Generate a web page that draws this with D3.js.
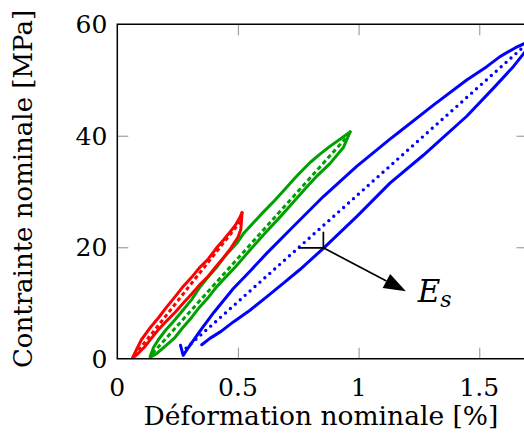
<!DOCTYPE html>
<html><head><meta charset="utf-8">
<script src="https://cdn.jsdelivr.net/npm/d3@7"></script>
<style>
html,body{margin:0;padding:0;background:#fff;}
svg{display:block;}
text{font-family:"DejaVu Serif",serif;fill:#000;}
</style></head>
<body>
<script>
// ---- data ----
const xDomain = [0, 1.7];
const yDomain = [0, 60];
const xTicks = [0, 0.5, 1, 1.5];
const yTicks = [0, 20, 40, 60];
const xLabel = "Déformation nominale [%]";
const yLabel = "Contrainte nominale [MPa]";

const redUpper = [[0.066,0.4],[0.085,2.1],[0.10,3.4],[0.135,5.5],[0.17,7.3],[0.205,9.3],[0.239,11.1],[0.27,12.8],[0.308,14.6],[0.34,16.3],[0.377,17.9],[0.41,19.8],[0.44,21.3],[0.47,22.9],[0.49,24.0],[0.505,25.1],[0.517,26.2]];
const redLower = [[0.064,0.2],[0.075,0.5],[0.09,1.1],[0.115,2.2],[0.14,3.6],[0.17,5.2],[0.205,6.8],[0.239,8.3],[0.27,9.8],[0.308,11.6],[0.34,13.2],[0.377,14.8],[0.41,16.6],[0.44,18.1],[0.47,19.8],[0.50,21.8],[0.512,23.2],[0.517,26.2]];
const redSecant = [[0.07,0.5],[0.51,24.6]];

const greenUpper = [[0.136,0.4],[0.15,2.0],[0.17,3.4],[0.20,5.1],[0.239,7.0],[0.27,8.6],[0.308,10.6],[0.34,12.7],[0.377,14.7],[0.41,16.3],[0.446,18.4],[0.495,20.7],[0.522,22.4],[0.56,24.2],[0.605,26.3],[0.65,28.3],[0.688,30.1],[0.74,32.6],[0.799,35.2],[0.84,36.7],[0.881,38.1],[0.93,39.6],[0.965,40.7]];
const greenLower = [[0.138,0.3],[0.150,0.6],[0.163,0.9],[0.20,2.3],[0.239,3.8],[0.27,5.5],[0.308,7.4],[0.34,9.2],[0.377,11.0],[0.41,12.8],[0.446,14.5],[0.49,16.5],[0.522,18.1],[0.55,19.5],[0.61,22.4],[0.674,25.4],[0.73,28.1],[0.785,30.8],[0.83,32.9],[0.881,35.0],[0.937,37.9],[0.965,40.7]];
const greenSecant = [[0.145,0.9],[0.96,40.2]];

const blueUpper = [[0.262,2.4],[0.273,0.6],[0.29,1.7],[0.35,5.4],[0.40,8.3],[0.481,12.6],[0.55,15.7],[0.619,18.9],[0.715,23.1],[0.854,29.1],[0.992,34.5],[1.13,39.4],[1.172,40.8],[1.31,45.5],[1.448,50.0],[1.531,52.4],[1.586,54.2],[1.65,55.8],[1.70,56.8]];
const blueLower = [[0.350,2.5],[0.384,3.65],[0.43,4.9],[0.481,6.6],[0.55,8.7],[0.619,11.1],[0.69,13.6],[0.757,16.0],[0.854,19.8],[0.992,25.5],[1.13,31.5],[1.268,36.5],[1.33,38.9],[1.448,43.5],[1.558,48.5],[1.641,52.4],[1.70,55.6]];
const blueSecant = [[0.285,1.9],[1.70,56.6]];

// annotation (data coordinates)
const perpCorner = [0.854, 19.9];
const perpHoriz = [0.75, 19.9];
const perpVert = [0.854, 22.8];
const arrowTip = [1.196, 12.1];
const esLabelPos = [1.245, 10.2];

// ---- layout ----
const W = 524, H = 435;
const margin = {left: 117.3, top: 24.3, right: W - 527.5, bottom: H - 358.7};

const svg = d3.select("body").append("svg").attr("width", W).attr("height", H);

const x = d3.scaleLinear().domain(xDomain).range([margin.left, W - margin.right]);
const y = d3.scaleLinear().domain(yDomain).range([H - margin.bottom, margin.top]);

svg.append("defs").append("clipPath").attr("id","clip")
  .append("rect").attr("x", x(xDomain[0])).attr("y", y(yDomain[1]))
  .attr("width", x(xDomain[1]) - x(xDomain[0])).attr("height", y(yDomain[0]) - y(yDomain[1]));

// ticks (inside, gray) via d3 axes
const tickLen = 11;
const tickStyle = g => {
  g.select(".domain").remove();
  g.selectAll(".tick line").attr("stroke", "#a0a0a0").attr("stroke-width", 1.2);
  g.selectAll(".tick text").remove();
};
svg.append("g").attr("transform", `translate(0,${y(0)})`)
  .call(d3.axisBottom(x).tickValues(xTicks.filter(v=>v>0)).tickSize(-tickLen)).call(tickStyle);
svg.append("g").attr("transform", `translate(0,${y(60)})`)
  .call(d3.axisTop(x).tickValues(xTicks.filter(v=>v>0)).tickSize(-tickLen)).call(tickStyle);
svg.append("g").attr("transform", `translate(${x(0)},0)`)
  .call(d3.axisLeft(y).tickValues([20,40]).tickSize(-tickLen)).call(tickStyle);
svg.append("g").attr("transform", `translate(${x(1.7)},0)`)
  .call(d3.axisRight(y).tickValues([20,40]).tickSize(-tickLen)).call(tickStyle);

// tick labels
const fs = 25;
svg.append("g").selectAll("text").data(xTicks).join("text")
  .attr("x", d => x(d)).attr("y", y(0) + 37)
  .attr("text-anchor", "middle").attr("font-size", fs).text(d => d);
svg.append("g").selectAll("text").data(yTicks).join("text")
  .attr("x", x(0) - 10).attr("y", d => y(d) + 9)
  .attr("text-anchor", "end").attr("font-size", fs).text(d => d);

// axis labels
svg.append("text").attr("x", 321).attr("y", 425).attr("text-anchor","middle")
  .attr("font-size", 26.5).text(xLabel);
svg.append("text").attr("transform", `translate(32,${189}) rotate(-90)`)
  .attr("text-anchor","middle").attr("font-size", 26).text(yLabel);

// curves
const line = d3.line().x(d => x(d[0])).y(d => y(d[1]));
const plot = svg.append("g").attr("clip-path","url(#clip)");
const lw = 3;
function solid(data, color){
  plot.append("path").datum(data).attr("d", line).attr("fill","none")
    .attr("stroke", color).attr("stroke-width", lw).attr("stroke-linejoin","round").attr("stroke-linecap","round");
}
solid(blueUpper, "#0000ff");
solid(blueLower, "#0000ff");
plot.append("path").datum(blueSecant).attr("d", line).attr("fill","none")
  .attr("stroke","#0000ff").attr("stroke-width", 3.4).attr("stroke-linecap","round")
  .attr("stroke-dasharray","0 6.6");
solid(greenUpper, "#00a000");
solid(greenLower, "#00a000");
plot.append("path").datum(greenSecant).attr("d", line).attr("fill","none")
  .attr("stroke","#00a000").attr("stroke-width", lw).attr("stroke-dasharray","4.5 3");
solid(redUpper, "#ff0000");
solid(redLower, "#ff0000");
plot.append("path").datum(redSecant).attr("d", line).attr("fill","none")
  .attr("stroke","#ff0000").attr("stroke-width", lw).attr("stroke-dasharray","4 3");

// frame
const frame = svg.append("g").attr("stroke","#000").attr("stroke-width",1.5).attr("fill","none");
frame.append("path").attr("d", `M${x(1.7)},${y(60)}H${x(0)}V${y(0)}H${x(1.7)}V${y(60)}`);

// annotation
const ann = svg.append("g").attr("stroke","#000").attr("stroke-width",1.7).attr("fill","none");
ann.append("path").attr("d", `M${x(perpHoriz[0])},${y(perpHoriz[1])}L${x(perpCorner[0])},${y(perpCorner[1])}L${x(perpVert[0])},${y(perpVert[1])}`);
const sx = x(perpCorner[0]), sy = y(perpCorner[1]);
const tx = x(arrowTip[0]), ty = y(arrowTip[1]);
const ang = Math.atan2(ty - sy, tx - sx);
const headLen = 22, headHalf = 8;
const bx = tx - headLen*Math.cos(ang), by = ty - headLen*Math.sin(ang);
ann.append("line").attr("x1", sx).attr("y1", sy).attr("x2", bx).attr("y2", by);
svg.append("path").attr("fill","#000")
  .attr("d", `M${tx},${ty}L${bx + headHalf*Math.sin(ang)},${by - headHalf*Math.cos(ang)}L${bx - headHalf*Math.sin(ang)},${by + headHalf*Math.cos(ang)}Z`);
const es = svg.append("text").attr("x", x(esLabelPos[0])).attr("y", y(esLabelPos[1]))
  .attr("font-size", 31).attr("font-style","italic");
es.append("tspan").text("E");
es.append("tspan").attr("font-size", 22).attr("dy", 5).text("s");
</script>
</body></html>
